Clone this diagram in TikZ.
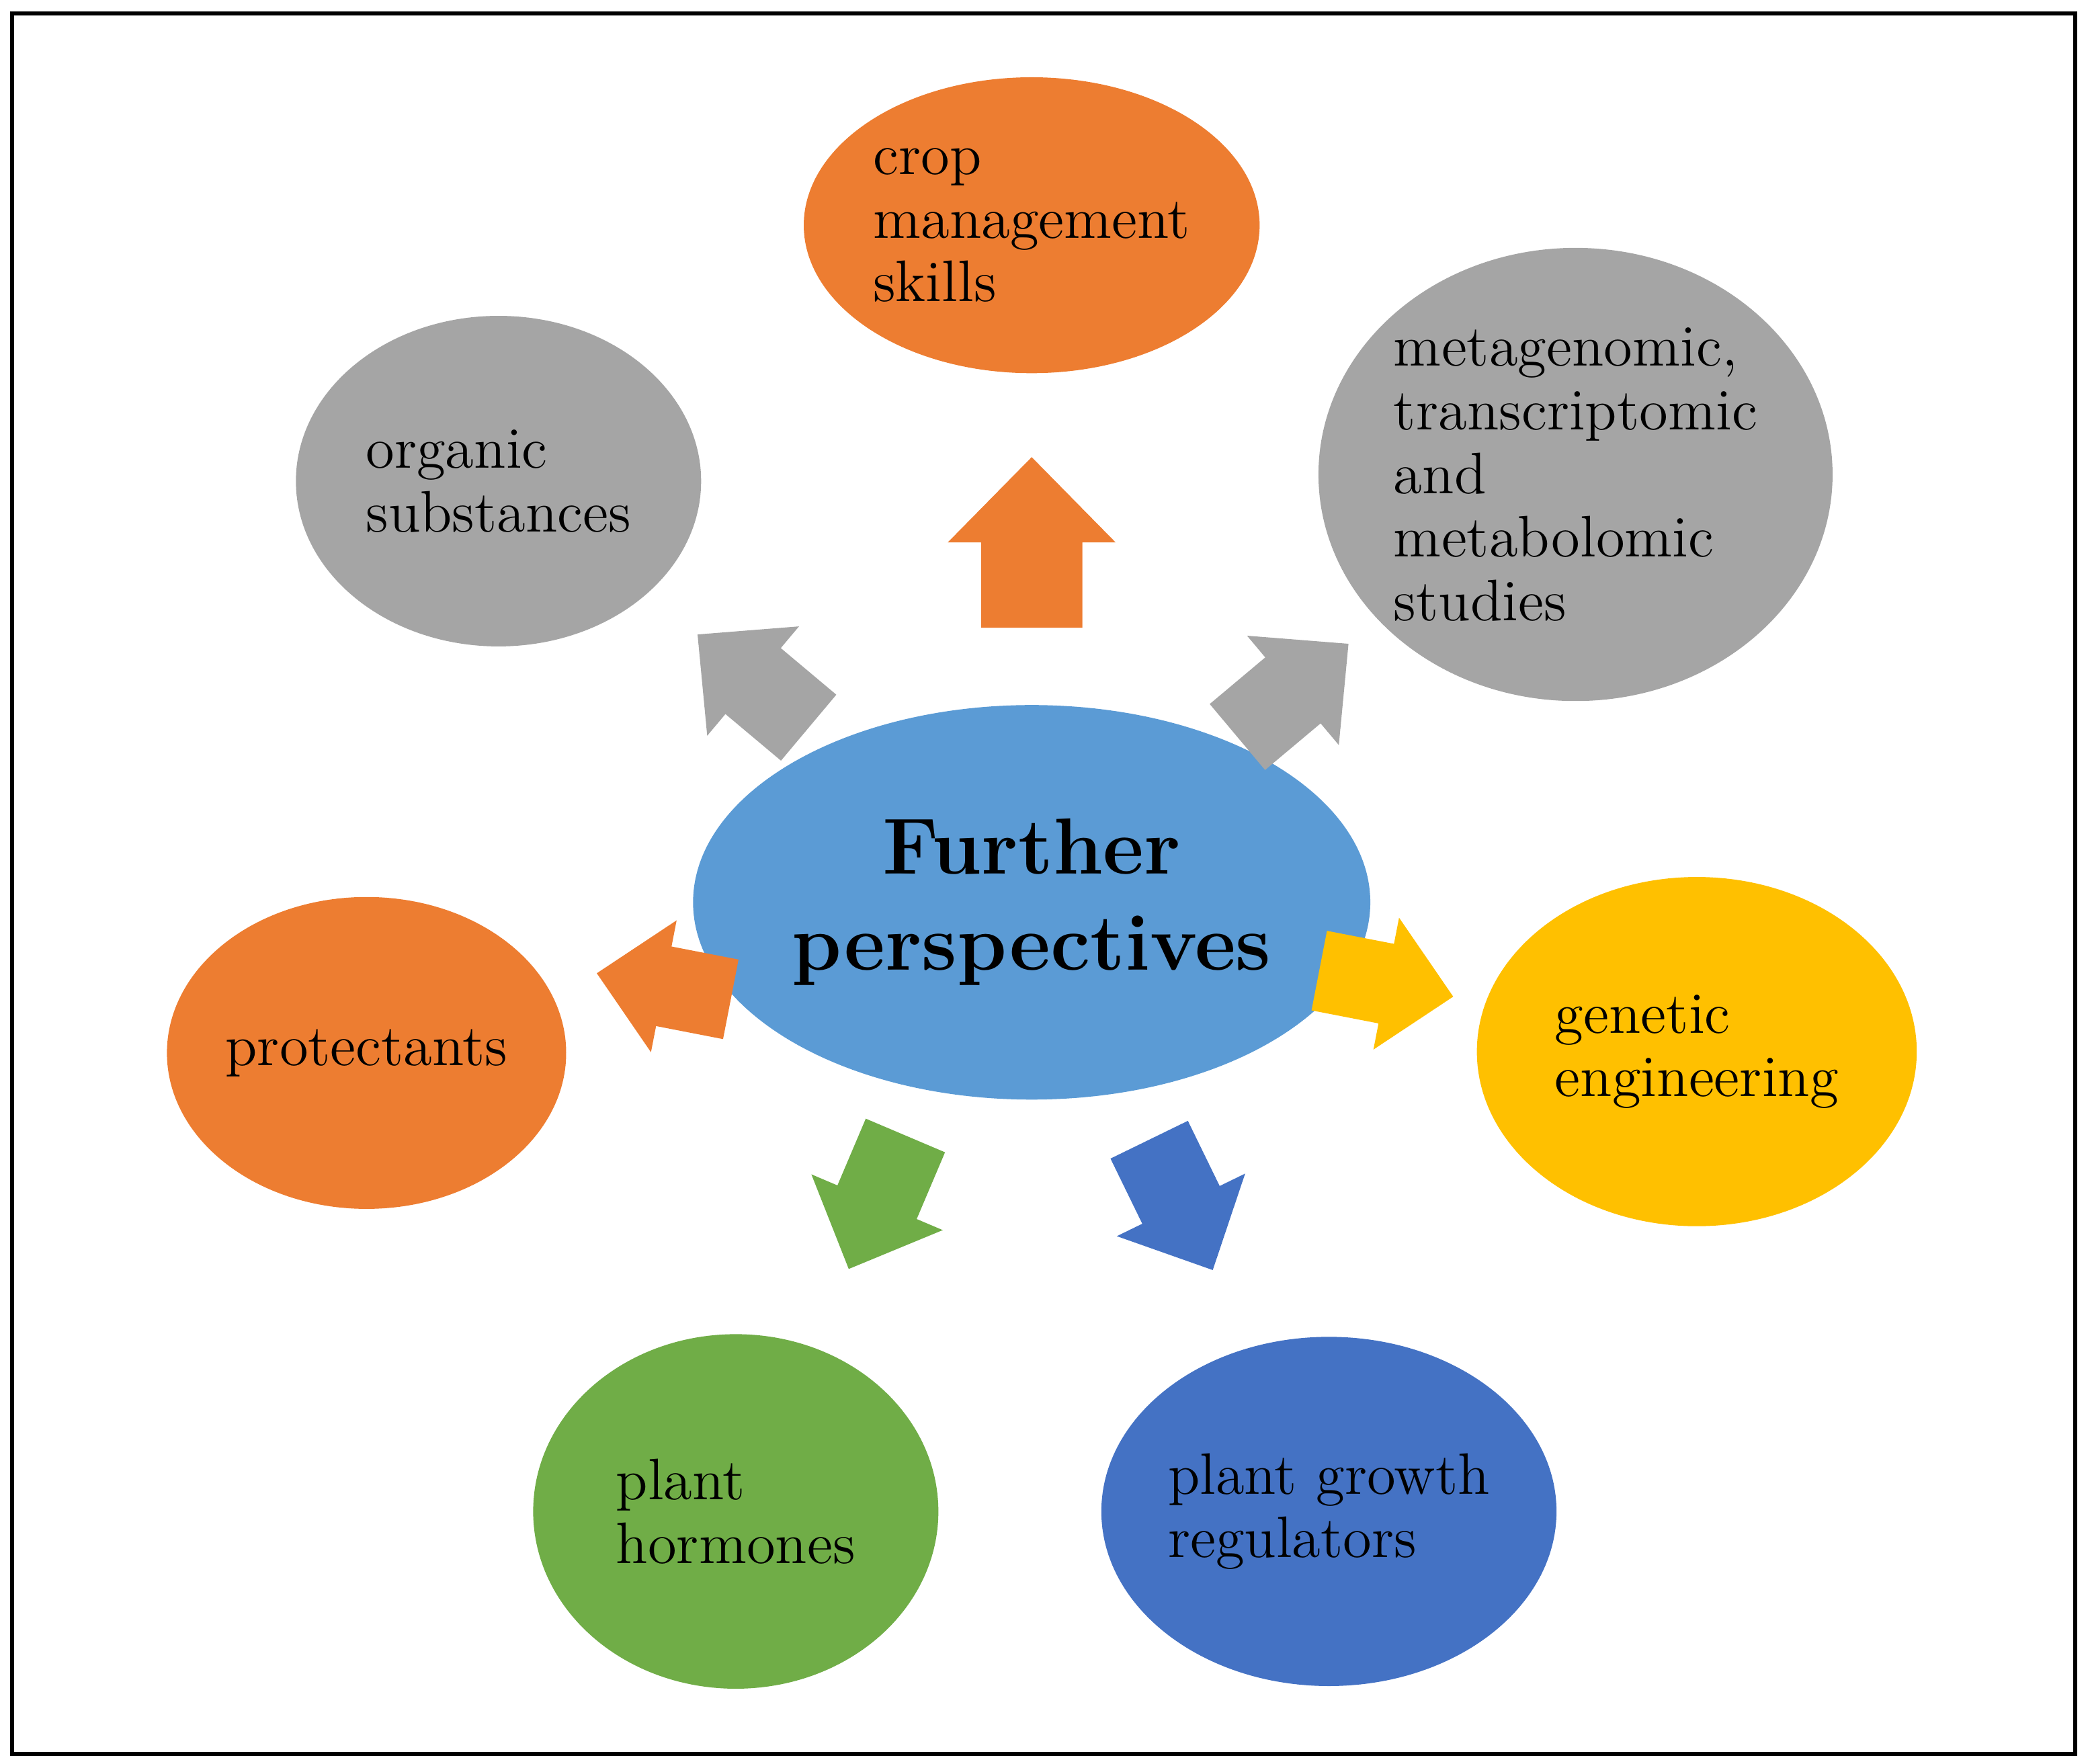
\documentclass[tikz,border=0pt]{standalone}
\usepackage{xcolor}
\usetikzlibrary{shapes.geometric}

\definecolor{cblue}{HTML}{5B9BD5}
\definecolor{corange}{HTML}{ED7D31}
\definecolor{cgray}{HTML}{A5A5A5}
\definecolor{cyellow}{HTML}{FFC000}
\definecolor{cgreen}{HTML}{70AD47}
\definecolor{cdblue}{HTML}{4472C4}

\tikzset{
  bubble/.style = {ellipse, fill=#1, draw=none, align=left, inner sep=0pt,
                   font=\fontsize{12.5}{13.6}\selectfont},
  bigarrow/.pic = {
    \fill (-0.64,-0.38) -- (0,-0.38) -- (0,-0.63) -- (0.64,0) -- (0,0.63)
          -- (0,0.38) -- (-0.64,0.38) -- cycle;
  }
}

\begin{document}
\begin{tikzpicture}[x=1cm,y=1cm]
    \useasboundingbox (0,0) rectangle (15.68,13.23);
    \draw[line width=0.8pt] (0.09,0.07) rectangle (15.57,13.13);

    \node [bubble=cblue, minimum width=4.36cm, minimum height=2.96cm,
           font=\fontsize{17}{20.5}\selectfont\bfseries, align=center] (FP) at (7.74,6.46) {Further\\perspectives};
    \node [bubble=corange, minimum width=3.42cm, minimum height=2.22cm] (crop) at (7.74,11.54) {crop\\management\\skills};
    \node [bubble=cgray, minimum width=3.04cm, minimum height=2.48cm] (org) at (3.74,9.62) {organic\\substances};
    \node [bubble=cgray, minimum width=3.74cm, minimum height=3.40cm] (meta) at (11.82,9.67) {metagenomic,\\transcriptomic\\and\\metabolomic\\studies};
    \node [bubble=corange, minimum width=2.96cm, minimum height=2.34cm] (prot) at (2.75,5.33) {protectants};
    \node [bubble=cyellow, minimum width=3.30cm, minimum height=2.62cm] (gen) at (12.73,5.34) {genetic\\engineering};
    \node [bubble=cgreen, minimum width=3.04cm, minimum height=2.66cm] (horm) at (5.52,1.89) {plant\\hormones};
    \node [bubble=cdblue, minimum width=3.24cm, minimum height=2.62cm] (pgr) at (9.97,1.89) {plant growth\\regulators};

    % arrows from the centre
    \pic [fill=corange, rotate=90] at (7.74,9.16) {bigarrow};
    \pic [fill=cgray, rotate=140, scale=0.85] at (5.65,8.12) {bigarrow};
    \pic [fill=cgray, rotate=40, scale=0.85] at (9.70,8.05) {bigarrow};
    \pic [fill=corange, rotate=169, scale=0.8] at (4.98,5.83) {bigarrow};
    \pic [fill=cyellow, rotate=-11, scale=0.8] at (10.40,5.85) {bigarrow};
    \pic [fill=cgreen, rotate=247, scale=0.85] at (6.58,4.21) {bigarrow};
    \pic [fill=cdblue, rotate=-64, scale=0.85] at (8.86,4.19) {bigarrow};
\end{tikzpicture}
\end{document}
